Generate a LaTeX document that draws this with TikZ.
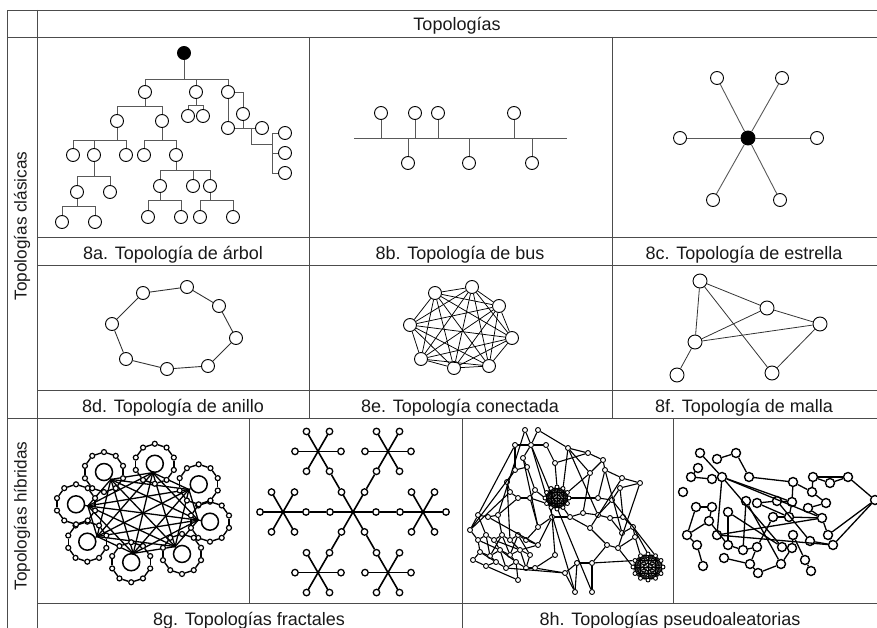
\documentclass[tikz,border=0pt]{standalone}
\usepackage{fontspec}
\setmainfont{Liberation Sans}
\usetikzlibrary{calc}
\tikzset{gridline/.style={draw=black!70,line width=0.9pt}}
\tikzset{capt/.style={text=black!90,font=\fontsize{18}{20}\selectfont,inner sep=0pt}}
\tikzset{sidecapt/.style={text=black!90,font=\fontsize{17.2}{19}\selectfont,inner sep=0pt}}
\tikzset{pc/.style={circle,draw=black,line width=0.9pt,fill=white,inner sep=0pt,minimum size=13pt}}
\tikzset{hub/.style={pc,fill=black}}
\tikzset{twig/.style={draw=black!65,line width=0.9pt}}
\tikzset{mini/.style={circle,draw=black,line width=1.2pt,fill=white,inner sep=0pt,minimum size=5pt}}
\tikzset{bigring/.style={circle,draw=black,line width=1.5pt,fill=white,inner sep=0pt,minimum size=17pt}}
\tikzset{knot/.style={circle,draw=black,line width=1.3pt,fill=white,inner sep=0pt,minimum size=6.5pt}}
\tikzset{speck/.style={circle,draw=black,line width=0.9pt,fill=white,inner sep=0pt,minimum size=5pt}}
\tikzset{ball/.style={circle,draw=black,line width=1.4pt,fill=white,inner sep=0pt,minimum size=9pt}}
\begin{document}
\begin{tikzpicture}[x=1pt,y=-1pt]
\useasboundingbox (0,0) rectangle (877,628);

% table
\draw[gridline] (7,628) -- (7,10) -- (877,10);
\draw[gridline] (37,10) -- (37,628);
\draw[gridline] (7,37) -- (877,37);
\draw[gridline] (37,237) -- (877,237);
\draw[gridline] (37,265) -- (877,265);
\draw[gridline] (37,390) -- (877,390);
\draw[gridline] (7,418) -- (877,418);
\draw[gridline] (37,603) -- (877,603);
\draw[gridline] (309,37) -- (309,418);
\draw[gridline] (612,37) -- (612,418);
\draw[gridline] (249,418) -- (249,603);
\draw[gridline] (462,418) -- (462,628);
\draw[gridline] (673,418) -- (673,603);

\node[capt,anchor=base] (titulo) at (457,31) {Topologías};
\node[sidecapt,rotate=90] (clasicas) at (22,226) {Topologías clásicas};
\node[sidecapt,rotate=90] (hibridas) at (22,516) {Topologías híbridas};
\node[capt,anchor=base] (cap8a) at (173,259) {8a. Topología de árbol};
\node[capt,anchor=base] (cap8b) at (460,259) {8b. Topología de bus};
\node[capt,anchor=base] (cap8c) at (744,259) {8c. Topología de estrella};
\node[capt,anchor=base] (cap8d) at (173,412) {8d. Topología de anillo};
\node[capt,anchor=base] (cap8e) at (460,412) {8e. Topología conectada};
\node[capt,anchor=base] (cap8f) at (744,412) {8f. Topología de malla};
\node[capt,anchor=base] (cap8g) at (249,625) {8g. Topologías fractales};
\node[capt,anchor=base] (cap8h) at (670,625) {8h. Topologías pseudoaleatorias};

% 8a arbol
\node[hub] (A0) at (184,53) {};
\foreach \na/\px/\py in {1/145/92,2/196/92,3/228/92,4/117/121,5/162/121,6/188/116,7/203/116,
  8/73/155,9/94/155,10/126/155,11/144/155,12/176/155,13/77/192,14/110/192,15/62/222,16/95/222,
  17/160/186,18/193/186,19/210/186,20/148/217,21/181/217,22/200/217,23/233/217,
  24/243/114,25/228/128,26/262/128,27/285/133,28/285/153,29/285/173}
  \node[pc] (A\na) at (\px,\py) {};
\foreach \ch in {A1,A2,A3} \draw[twig] (A0) -- ++(0,26) -| (\ch);
\foreach \ch in {A4,A5} \draw[twig] (A1) -- ++(0,14) -| (\ch);
\foreach \ch in {A6,A7} \draw[twig] (A2) -- ++(0,13) -| (\ch);
\foreach \ch in {A8,A9,A10} \draw[twig] (A4) -- ++(0,19) -| (\ch);
\foreach \ch in {A11,A12} \draw[twig] (A5) -- ++(0,19) -| (\ch);
\foreach \ch in {A13,A14} \draw[twig] (A9) -- ++(0,21) -| (\ch);
\foreach \ch in {A15,A16} \draw[twig] (A13) -- ++(0,14) -| (\ch);
\foreach \ch in {A17,A18,A19} \draw[twig] (A12) -- ++(0,15) -| (\ch);
\foreach \ch in {A20,A21} \draw[twig] (A17) -- ++(0,14) -| (\ch);
\foreach \ch in {A22,A23} \draw[twig] (A19) -- ++(0,14) -| (\ch);
\draw[twig] (A3) -| (A24);
\draw[twig] (A3) -- (A25);
\draw[twig] (A25) -- (A26);
\draw[twig] (A24) -- (A24 |- A25);
\coordinate (J1) at (251,128);
\coordinate (J2) at (272,144);
\draw[twig] (J1) |- (J2);
\foreach \ch in {A27,A28,A29} \draw[twig] (J2) |- (\ch);

% 8b bus
\coordinate (Bl) at (354,138);
\coordinate (Br) at (567,138);
\draw[twig] (Bl) -- (Br);
\foreach \na/\px/\py in {1/381/113,2/415/113,3/438/113,4/514/113,5/408/163,6/469/163,7/532/163}{
  \node[pc] (B\na) at (\px,\py) {};
  \draw[twig] (B\na) -- (B\na |- Bl);
}

% 8c estrella
\node[hub,minimum size=14pt] (C0) at (748,138) {};
\foreach \na/\px/\py in {1/717/78,2/782/78,3/680/138,4/817/138,5/713/200,6/780/200}{
  \node[pc] (C\na) at (\px,\py) {};
  \draw[twig] (C0) -- (C\na);
}

% 8d anillo
\foreach \na/\px/\py in {1/112/324,2/143/293,3/187/287,4/219/306,5/236/338,6/208/366,7/167/369,8/126/359}
  \node[pc] (D\na) at (\px,\py) {};
\foreach \na [remember=\na as \nb (initially 8)] in {1,...,8}
  \draw[twig,draw=black!80] (D\nb) -- (D\na);

% 8e conectada
\foreach \na/\px/\py in {1/435/293,2/472/287,3/499/306,4/512/338,5/489/366,6/454/368,7/421/359,8/410/325}
  \node[pc] (E\na) at (\px,\py) {};
\foreach \na in {1,...,7}{
  \pgfmathtruncatemacro\nn{\na+1}
  \foreach \nb in {\nn,...,8} \draw[draw=black,line width=0.75pt] (E\na) -- (E\nb);
}

% 8f malla
\foreach \na/\px/\py in {1/700/281,2/767/308,3/820/324,4/695/342,5/677/375,6/772/373}
  \node[pc,minimum size=14pt] (F\na) at (\px,\py) {};
\foreach \na/\nb in {1/4,1/2,1/6,2/3,2/4,4/3,4/5,3/6}
  \draw[draw=black!80,line width=0.8pt] (F\na) -- (F\nb);

% 8g fractal de anillos
\coordinate (GC) at (143,513);
\foreach \k in {0,...,7}{
  \pgfmathsetmacro\ang{10+45*\k}
  \coordinate (H\k) at ($(GC)+(\ang:56 and 41)$);
  \coordinate (Gc\k) at ($(GC)+(\ang:68 and 50)$);
}
\foreach \na in {0,...,6}{
  \pgfmathtruncatemacro\nn{\na+1}
  \foreach \nb in {\nn,...,7} \draw[line width=1.3pt] (H\na) -- (H\nb);
}
\foreach \k in {0,...,7}{
  \foreach \j in {0,...,9}
    \node[mini] (G\k-\j) at ($(Gc\k)+(36*\j+18:20)$) {};
  \foreach \j in {0,...,9}{
    \pgfmathtruncatemacro\nx{mod(\j+1,10)}
    \draw[line width=1.4pt] (G\k-\j) -- (G\k-\nx);
  }
  \node[bigring] (G\k) at (Gc\k) {};
  \draw[line width=1.3pt] (H\k) -- (G\k);
}

% 8g fractal de estrellas
\coordinate (S) at (353,512);
\foreach \k in {0,...,5}{
  \coordinate (K\k) at ($(S)+(60*\k:70)$);
  \pgfmathtruncatemacro\back{mod(\k+3,6)}
  \foreach \j in {0,...,5}{
    \draw[line width=1.6pt] (K\k) -- ($(K\k)+(60*\j:20)$);
    \node[knot] (K\k-\j) at ($(K\k)+(60*\j:23)$) {};
  }
  \draw[line width=1.6pt] (S) -- ($(S)+(60*\k:20)$);
  \node[knot] (S-\k) at ($(S)+(60*\k:23)$) {};
  \draw[line width=1.6pt] (S-\k) -- (K\k-\back);
}

% 8h pseudoaleatoria (1)
\foreach \na/\px/\py in {1/531/445,2/525/430,3/538/430,4/515/445,5/546/445,6/523/458,
  7/568/448,8/588/453,9/603/460,10/590/473,11/555/463,
  12/605/470,13/622/478,14/640/483,15/620/488,16/612/500,17/598/498,
  18/515/470,19/527/467,20/507/482,21/510/492,22/518/498,23/530/498,24/535/490,
  25/478/515,26/488/517,27/498/515,28/470/530,29/538/527,30/552/517,31/570/517,
  32/583/513,33/598/515,34/610/518,35/623/517,36/633/527,37/622/533,38/590/528,
  39/635/537,40/607/545,41/618/548,
  42/478/540,43/486/535,44/494/540,45/502/535,46/510/540,47/518/535,48/526/540,
  49/480/552,50/490/556,51/500/550,52/510/555,53/520/550,54/530/555,
  55/486/566,56/496/562,57/506/568,58/516/562,59/526/568,60/473/560,61/538/545,
  62/518/580,63/535/568,64/565/573,65/577/563,66/592/563,67/575/592,68/592/592,69/555/555}
  \node[speck] (P\na) at (\px,\py) {};
\foreach \na/\nb in {1/2,1/3,1/4,1/5,1/6,1/67,1/68,3/7,7/8,8/9,9/10,7/10,11/8,5/11,4/18,
  9/12,12/13,13/14,14/15,15/16,12/17,16/17,14/41,13/38,18/19,18/20,20/21,21/22,22/23,
  23/24,24/19,6/19,25/26,26/27,25/28,27/22,28/21,29/30,30/31,31/32,32/33,33/34,34/35,
  35/36,36/37,37/34,38/40,40/41,39/41,36/39,35/15,33/16,32/10,38/31,29/23,
  42/43,43/44,44/45,45/46,46/47,47/48,42/49,49/50,50/51,51/52,52/53,53/54,49/60,60/55,
  55/56,56/57,57/58,58/59,43/50,44/51,45/52,46/53,47/54,48/61,50/56,51/57,52/58,53/59,
  42/51,44/53,45/50,47/52,49/56,51/58,53/61,54/59,28/42,25/43,27/45,29/48,61/30,59/63,
  55/62,57/64,63/64,64/67,65/66,66/68,65/67,66/40,69/30,69/63,64/65,2/27,20/46,6/29,
  7/33,12/37,26/61,4/25,18/28,62/58}
  \draw[line width=1.1pt] (P\na) -- (P\nb);
\coordinate (M1) at (557,498);
\coordinate (M2) at (648,567);
\foreach \na in {1,...,12}{
  \node[speck,minimum size=4pt] (M1-\na) at ($(M1)+(30*\na:12 and 11)$) {};
  \node[speck,minimum size=4pt] (M2-\na) at ($(M2)+(30*\na:15 and 13)$) {};
}
\foreach \na in {1,...,11}{
  \pgfmathtruncatemacro\nn{\na+1}
  \foreach \nb in {\nn,...,12}{
    \draw[line width=0.6pt] (M1-\na) -- (M1-\nb);
    \draw[line width=0.6pt] (M2-\na) -- (M2-\nb);
  }
}
\foreach \na/\nb in {24/6,11/9,17/12,30/4,31/2,10/11,7/10,23/5}
  \draw[line width=1.1pt] (P\na) -- (M1-\nb);
\foreach \na/\nb in {41/6,36/9,66/7,39/8,16/10}
  \draw[line width=1.1pt] (P\na) -- (M2-\nb);

% 8h pseudoaleatoria (2)
\foreach \na/\px/\py in {1/700/453,2/717/459,3/736/453,4/698/468,5/691/477,6/712/479,
  7/722/477,8/749/477,9/683/492,10/793/482,11/813/477,12/830/483,13/848/477,14/812/492,
  15/875/500,16/696/507,17/712/507,18/746/501,19/757/503,20/777/501,21/792/502,22/826/503,
  23/728/512,24/709/521,25/773/517,26/789/517,27/808/508,28/822/518,29/687/535,30/717/535,
  31/793/535,32/810/541,33/828/535,34/697/545,35/728/545,36/743/550,37/757/547,38/782/547,
  39/792/548,40/833/545,41/724/558,42/750/564,43/781/564,44/805/560,45/703/566,46/758/573,
  47/811/571}
  \node[ball] (Q\na) at (\px,\py) {};
\foreach \na/\nb in {1/7,2/3,3/8,4/5,5/6,6/7,7/30,7/21,7/38,7/28,8/10,10/14,11/12,12/13,
  11/13,13/15,15/40,15/33,14/22,11/14,16/17,16/29,29/34,34/45,24/29,17/24,30/40,30/28,
  23/38,18/36,18/43,19/26,20/32,25/26,26/28,25/37,35/36,37/42,41/42,42/46,43/46,43/39,
  39/38,31/44,44/47,32/40,33/40,27/28,22/27,28/33,21/26,10/21,23/35,24/35,19/20,20/21,
  36/37,31/39}
  \draw[line width=1.3pt] (Q\na) -- (Q\nb);
\end{tikzpicture}
\end{document}
